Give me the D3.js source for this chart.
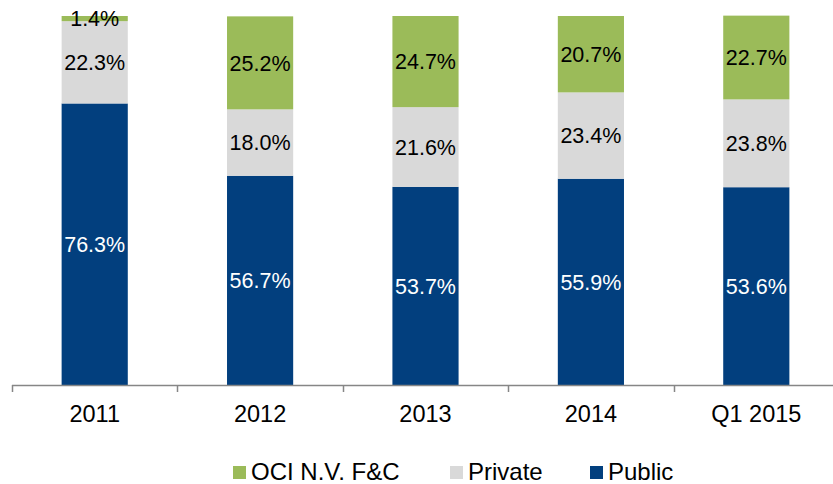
<!DOCTYPE html>
<html><head><meta charset="utf-8">
<script src="https://cdn.jsdelivr.net/npm/d3@7"></script>
<style>body{margin:0;background:#fff;} text{font-family:"Liberation Sans",Arial,sans-serif;}</style>
</head><body>
<svg id="c" width="833" height="484"></svg>
<script>
const categories = ["2011","2012","2013","2014","Q1 2015"];
const publicVals = [76.3, 56.7, 53.7, 55.9, 53.6];
const privateVals = [22.3, 18.0, 21.6, 23.4, 23.8];
const ociVals = [1.4, 25.2, 24.7, 20.7, 22.7];
const seriesNames = ["Public","Private","OCI N.V. F&C"];
const seriesColors = ["#023F7E","#D9D9D9","#9BBB59"];
const labelColors = ["#ffffff","#000000","#000000"];
const legendOrder = ["OCI N.V. F&C","Private","Public"];

const svg = d3.select("#c");
const x = d3.scaleBand().domain(categories).range([12, 839]).paddingInner(0).paddingOuter(0);
const y = d3.scaleLinear().domain([0, 100]).range([385, 16]);
const barFrac = 0.4;

const rows = categories.map((c, i) => ({cat: c, "Public": publicVals[i], "Private": privateVals[i], "OCI N.V. F&C": ociVals[i]}));
const stack = d3.stack().keys(seriesNames)(rows);

stack.forEach((layer, si) => {
  const g = svg.append("g");
  layer.forEach(d => {
    const bw = x.bandwidth() * barFrac;
    const x0 = x(d.data.cat) + (x.bandwidth() - bw) / 2;
    g.append("rect").attr("x", x0).attr("y", y(d[1])).attr("width", bw)
      .attr("height", y(d[0]) - y(d[1])).attr("fill", seriesColors[si]);
  });
});
stack.forEach((layer, si) => {
  layer.forEach(d => {
    const v = d[1] - d[0];
    const cy = (y(d[0]) + y(d[1])) / 2;
    svg.append("text").attr("x", x(d.data.cat) + x.bandwidth() / 2).attr("y", cy)
      .attr("dy", "0.36em").attr("text-anchor", "middle").attr("font-size", 21.5)
      .attr("fill", labelColors[si]).text(v.toFixed(1) + "%");
  });
});

// axis
const ax = svg.append("g");
ax.append("line").attr("x1", 12).attr("x2", 839).attr("y1", 385.5).attr("y2", 385.5)
  .attr("stroke", "#868686").attr("stroke-width", 1.5);
const bounds = categories.map(c => x(c)).concat([x.range()[1]]);
bounds.forEach(b => {
  ax.append("line").attr("x1", Math.round(b) + 0.5).attr("x2", Math.round(b) + 0.5).attr("y1", 385).attr("y2", 392)
    .attr("stroke", "#868686").attr("stroke-width", 1.5);
});
categories.forEach(c => {
  ax.append("text").attr("x", x(c) + x.bandwidth() / 2).attr("y", 414).attr("dy", "0.36em")
    .attr("text-anchor", "middle").attr("font-size", 23.5).attr("fill", "#000").text(c);
});

// legend
const legX = [233, 450, 590];
legendOrder.forEach((name, i) => {
  const si = seriesNames.indexOf(name);
  svg.append("rect").attr("x", legX[i]).attr("y", 466).attr("width", 13).attr("height", 13).attr("fill", seriesColors[si]);
  svg.append("text").attr("x", legX[i] + 18).attr("y", 471).attr("dy", "0.36em")
    .attr("font-size", 24).attr("fill", "#000").text(name);
});
</script>
</body></html>
